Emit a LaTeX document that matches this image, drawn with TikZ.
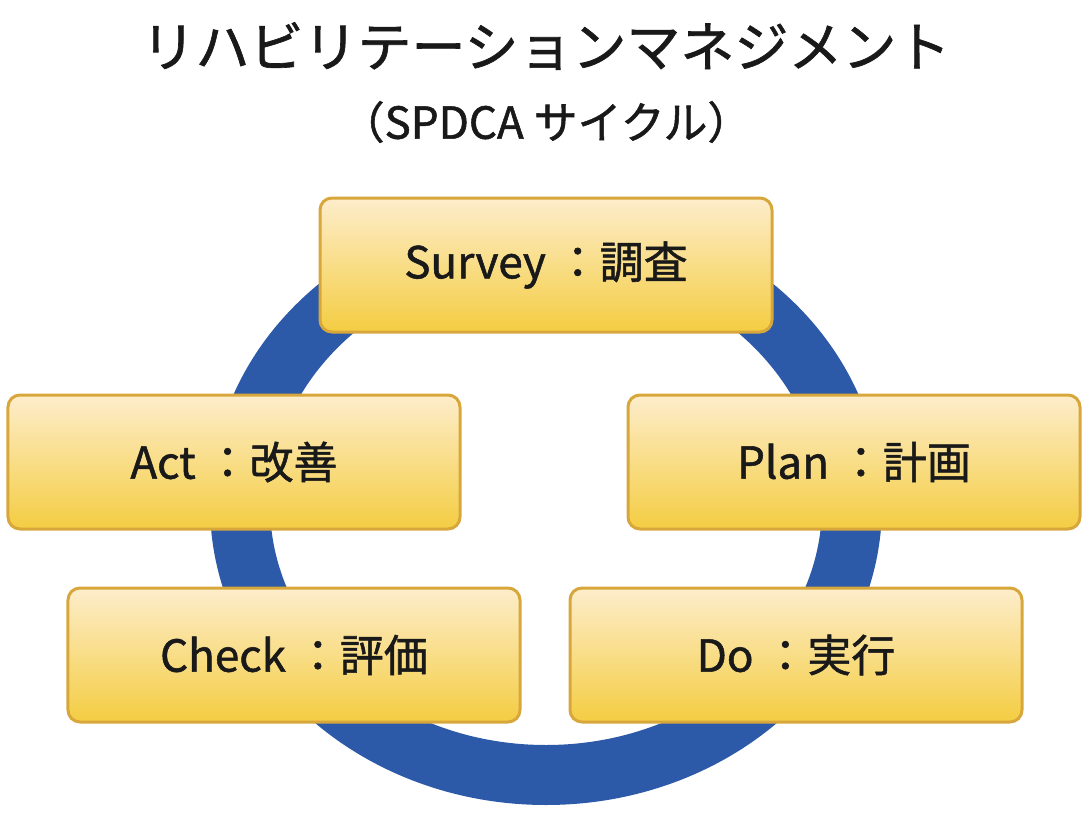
\documentclass[tikz,border=0pt]{standalone}
\usepackage{fontspec}
\setmainfont{Noto Sans CJK JP}
\newfontfamily\medfont[FakeBold=1.2]{Noto Sans CJK JP}
\begin{document}
\begin{tikzpicture}[x=1bp,y=-1bp,
  box/.style={draw=boxline,line width=3bp,rounded corners=12bp,top color=boxtop,bottom color=boxbot,minimum width=452bp,minimum height=134bp,font=\medfont\fontsize{44bp}{48bp}\selectfont,text=black!90}]
\definecolor{boxline}{HTML}{D8A73C}
\definecolor{boxtop}{HTML}{FDEDCB}
\definecolor{boxbot}{HTML}{F4CD42}
\definecolor{ring}{HTML}{2C5AA8}
\useasboundingbox (0,0) rectangle (1091,821);
\node[text=black!90] (title) at (546,46) {\medfont\fontsize{54bp}{58bp}\selectfont リハビリテーションマネジメント};
\node[text=black!90] (sub) at (546,122) {\medfont\fontsize{44bp}{48bp}\selectfont （SPDCA サイクル）};
\draw[ring,line width=60bp] (546,505) ellipse[x radius=306,y radius=270];
\node[box] (s) at (546,265) {Survey ：調査};
\node[box] (a) at (234,462) {Act ：改善};
\node[box] (p) at (854,462) {Plan ：計画};
\node[box] (c) at (294,655) {Check ：評価};
\node[box] (d) at (796,655) {Do ：実行};
\end{tikzpicture}
\end{document}
